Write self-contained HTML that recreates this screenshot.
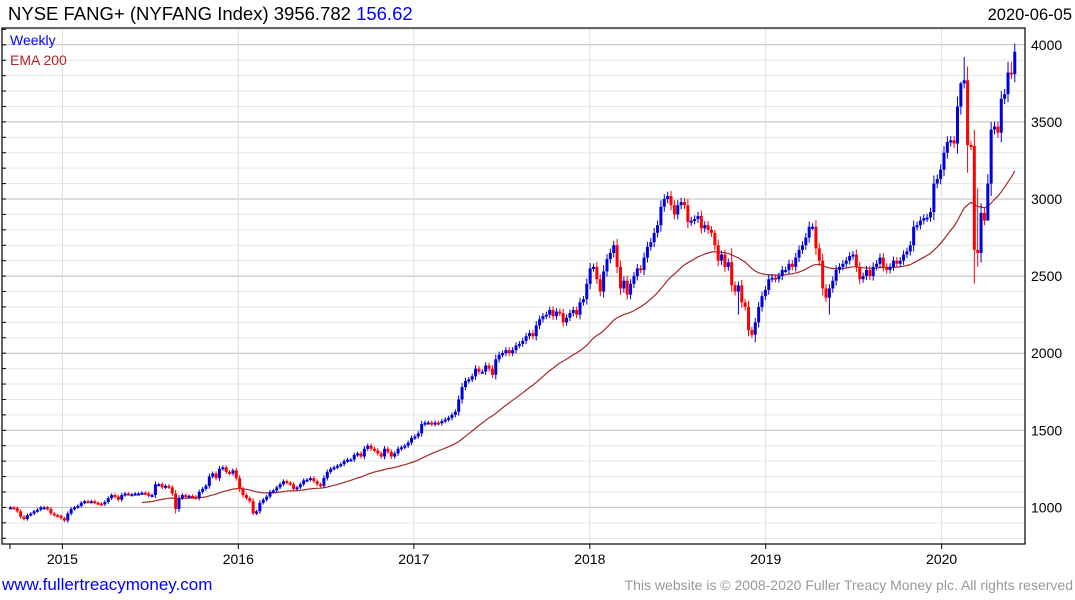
<!DOCTYPE html>
<html><head><meta charset="utf-8"><style>
body{margin:0;background:#fff;width:1075px;height:600px;overflow:hidden;font-family:"Liberation Sans",sans-serif}
svg{display:block}
</style></head><body>
<svg id="c" width="1075" height="600">
<text x="8" y="20" font-size="18.5" fill="#000">NYSE FANG+ (NYFANG Index) 3956.782 <tspan fill="#0000ff">156.62</tspan></text>
<text x="1072" y="20" font-size="16.5" text-anchor="end" fill="#000">2020-06-05</text>
<g id="grid"></g><g id="ema"></g><g id="candles"></g><g id="axes"></g>
<text x="10" y="45" font-size="14" fill="#0000ff">Weekly</text>
<text x="10" y="65" font-size="14" fill="#b22222">EMA 200</text>
<text x="2" y="590" font-size="17" fill="#0000ff">www.fullertreacymoney.com</text>
<text x="1073" y="590" font-size="14" text-anchor="end" fill="#999">This website is © 2008-2020 Fuller Treacy Money plc. All rights reserved</text>
</svg>
<script>
const closes=[1000,995,975,940,925,950,960,975,985,1000,1000,990,960,950,945,
930,915,960,990,1000,1010,1030,1040,1035,1040,1030,1025,1020,1035,1060,1080,1070,1050,1080,1090,1085,1085,1090,1090,1095,1090,1075,1080,1150,1150,1130,1140,1130,1090,990,1060,1080,1070,1075,1070,1060,1100,1120,1140,1200,1220,1190,1250,1260,1230,1220,1240,1190,
1120,1080,1060,1040,960,975,1030,1050,1070,1100,1110,1130,1150,1170,1160,1150,1120,1130,1150,1175,1180,1190,1170,1150,1140,1190,1230,1250,1260,1270,1280,1300,1310,1310,1340,1350,1330,1380,1400,1380,1370,1350,1330,1380,1360,1330,1350,1380,1390,1400,1420,1450,
1460,1480,1540,1550,1550,1540,1550,1545,1560,1570,1580,1600,1620,1700,1780,1820,1830,1850,1900,1880,1880,1920,1900,1860,1960,1990,2000,2020,2000,2020,2050,2060,2080,2110,2130,2110,2180,2220,2240,2250,2280,2240,2270,2260,2200,2230,2260,2280,2250,2330,2350,
2450,2550,2560,2480,2400,2530,2610,2650,2700,2560,2420,2470,2380,2450,2500,2550,2540,2620,2690,2720,2780,2830,2950,3000,3020,2960,2900,2960,2980,2960,2850,2860,2870,2890,2810,2830,2800,2780,2700,2600,2640,2560,2590,2440,2400,2440,2330,2300,2150,2120,2200,
2300,2370,2410,2480,2490,2480,2500,2540,2540,2580,2560,2620,2670,2700,2750,2820,2820,2680,2600,2420,2360,2420,2470,2540,2560,2580,2600,2630,2640,2560,2480,2500,2540,2500,2560,2580,2620,2560,
2540,2560,2600,2580,2600,2640,2660,2700,2820,2830,2860,2875,2880,2915,3100,3130,3190,3300,3370,3380,3360,3600,3750,3770,3350,3345,2670,2650,2910,2860,3100,3450,3470,3430,3650,3680,3820,3810,3955];
const highOverride={283:3920,286:3450,287:3070,291:3500,294:3700,296:3890,297:3890,282:3760,209:2800,214:2680};
const lowOverride={286:2450,287:2560,284:3170,290:2950,221:2070,243:2250,216:2250,49:960,72:950};
const yTicks=[1000,1500,2000,2500,3000,3500,4000];
const years=["2015","2016","2017","2018","2019","2020"];
const yearIdx=[15.4,67.6,119.7,171.9,224.1,276.3];

const NS="http://www.w3.org/2000/svg";
const L=2,R=1025,T=28,B=544;
const y=v=>199-(v-3000)*0.1542;
const x=i=>10.5+i*3.37;
function mk(tag,attrs,parent){const e=document.createElementNS(NS,tag);for(const k in attrs)e.setAttribute(k,attrs[k]);parent.appendChild(e);return e;}
const grid=document.getElementById('grid'),ax=document.getElementById('axes'),cg=document.getElementById('candles'),eg=document.getElementById('ema');
for(let v=700;v<=4100;v+=100){const yy=y(v);if(yy<T||yy>B)continue;
 const major=v%500===0;
 const ln=mk('line',{x1:L,x2:R,y1:yy,y2:yy,stroke:major?'#bbbbbb':'#e6e6e6','stroke-width':1},grid);
 
 
 const tk=mk('line',{x1:L,x2:L+4,y1:yy,y2:yy,stroke:'#000'},ax);
 
 
}
yTicks.forEach(v=>{const t=mk('text',{x:1031,y:y(v)+5,'font-size':14,fill:'#000'},ax);t.textContent=v;
 
 });
years.forEach((yr,k)=>{const xx=x(yearIdx[k]);
 const g=mk('line',{x1:xx,x2:xx,y1:T,y2:B,stroke:'#dddddd'},grid);
 
 
 const tk=mk('line',{x1:xx,x2:xx,y1:B,y2:B+5,stroke:'#000'},ax);
 
 
 const t=mk('text',{x:xx,y:564,'font-size':14,'text-anchor':'middle',fill:'#000'},ax);t.textContent=yr;
 
 });
const fr=mk('rect',{x:L,y:T,width:R-L,height:B-T,fill:'none',stroke:'#000','stroke-width':1.2},ax);


const t0=mk('line',{x1:10,x2:10,y1:B,y2:B+5,stroke:'#000'},ax);


closes.forEach((c,i)=>{const o=i?closes[i-1]:c;
 const top=Math.max(o,c),bot=Math.min(o,c),pad=c*0.008+Math.abs(c-o)*0.15;
 const hi=highOverride[i]!==undefined?highOverride[i]:top+pad;
 const lo=lowOverride[i]!==undefined?lowOverride[i]:bot-pad;
 const col=c>=o?'#0000dd':'#ff0000';const xx=x(i);
 const w=mk('line',{x1:xx,x2:xx,y1:y(hi),y2:y(lo),stroke:col,'stroke-width':1},cg);
 
 
 const bh=Math.max(2,y(bot)-y(top));
 const b=mk('rect',{x:xx-1.5,y:y(top),width:3,height:bh,fill:col},cg);
 
 
});
let e=closes[0],pts=[];const a=2/43;
closes.forEach((c,i)=>{e=i?e+a*(c-e):c;if(i>=39)pts.push(x(i).toFixed(1)+','+y(e).toFixed(1));});
const pl=mk('polyline',{points:pts.join(' '),fill:'none',stroke:'#a52a2a','stroke-width':1.2},eg);


</script>
</body></html>
